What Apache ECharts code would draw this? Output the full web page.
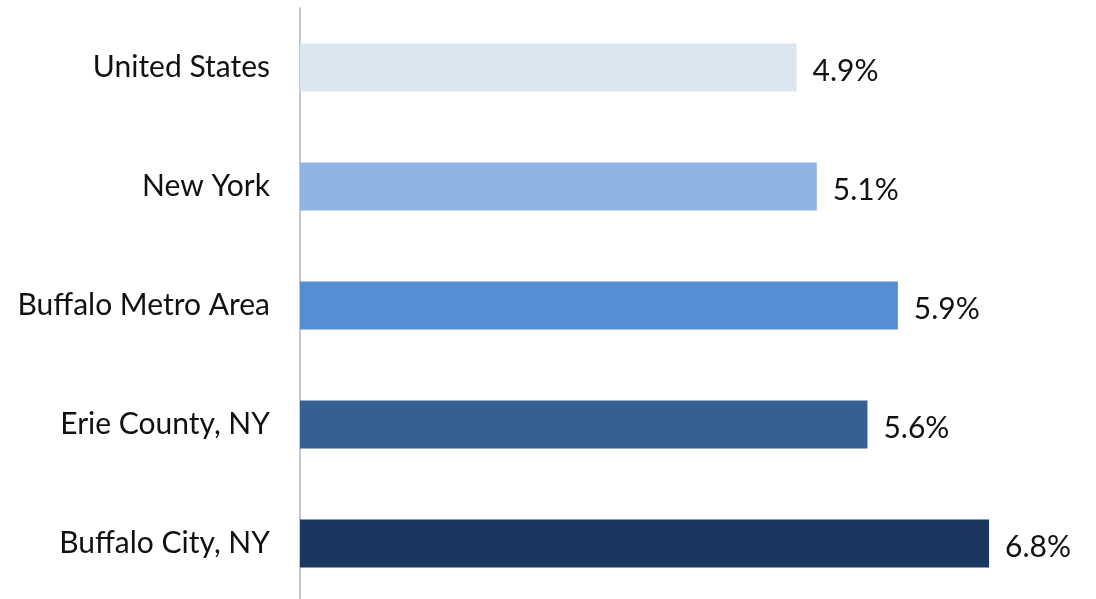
<!DOCTYPE html>
<html>
<head>
<meta charset="utf-8">
<script src="https://cdn.jsdelivr.net/npm/echarts@6/dist/echarts.min.js"></script>
<style>
html,body{margin:0;padding:0;background:#fff;overflow:hidden;}
#chart{width:1096px;height:610px;}
</style>
</head>
<body>
<div id="chart"></div>
<script>
const categories = ["United States", "New York", "Buffalo Metro Area", "Erie County, NY", "Buffalo City, NY"];
const values = [4.9, 5.1, 5.9, 5.6, 6.8];
const barColors = ["#DCE6F1", "#8DB4E2", "#558ED5", "#366092", "#1A3760"];

const chart = echarts.init(document.getElementById('chart'));
chart.setOption({
  animation: false,
  grid: { left: 300, top: 8, width: 760, height: 595, containLabel: false },
  xAxis: {
    type: 'value', min: 0, max: 7.5,
    show: false
  },
  yAxis: {
    type: 'category', inverse: true, data: categories,
    axisLine: { show: true, lineStyle: { color: '#BFC7D0', width: 2 } },
    axisTick: { show: false },
    axisLabel: { fontFamily: 'Lato', fontSize: 30, color: '#111', margin: 30, padding: [9, 0, 0, 0] }
  },
  series: [{
    type: 'bar',
    barWidth: 48,
    data: values.map((v, i) => ({ value: v, itemStyle: { color: barColors[i] } })),
    label: {
      show: true, position: 'right', distance: 16, offset: [0, 4],
      fontFamily: 'Lato', fontSize: 30, color: '#111',
      formatter: p => p.value.toFixed(1) + '%'
    }
  }]
});
</script>
</body>
</html>
